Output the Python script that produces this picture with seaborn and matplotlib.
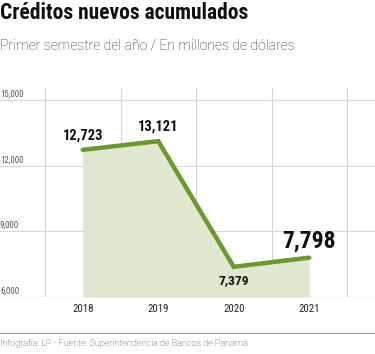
import matplotlib
matplotlib.use("Agg")
import matplotlib.pyplot as plt
import matplotlib.transforms as mtransforms
import seaborn as sns
import pandas as pd

# data
years = ["2018", "2019", "2020", "2021"]
creditos = [12723, 13121, 7379, 7798]
y_ticks = [6000, 9000, 12000, 15000]
y_tick_labels = ["6,000", "9,000", "12,000", "15,000"]

df = pd.DataFrame({"pos": range(len(years)), "year": years, "value": creditos})

NARROW = ["Roboto Condensed", "Archivo Narrow", "IBM Plex Sans Condensed",
          "Liberation Sans Narrow", "Roboto", "DejaVu Sans"]
LIGHT = ["Roboto", "DejaVu Sans"]
GREEN = "#6b9a2c"
FILL = "#e0e7cf"

sns.set_style("white")
plt.rcParams["font.family"] = NARROW

fig = plt.figure(figsize=(3.75, 3.54), dpi=100)
ax = fig.add_axes([0, 57 / 354, 1, 209 / 354])

ax.fill_between(df["pos"], df["value"], 6000, color=FILL, lw=0, zorder=1)
sns.lineplot(data=df, x="pos", y="value", color=GREEN, lw=3.2, ax=ax,
             zorder=3, solid_joinstyle="miter")

# grid: vertical lines between the years, horizontal lines at the ticks
bounds = [p - 0.5 for p in range(len(years) + 1)]
ax.set_xticks(df["pos"])
ax.set_xticklabels(years, fontsize=7.8, color="#222222")
ax.set_xticks(bounds, minor=True)
ax.tick_params(axis="x", which="major", length=0, pad=5)
ax.tick_params(axis="x", which="minor", length=5, width=0.8, color="#bbbbbb")
ax.set_yticks(y_ticks)
ax.set_yticklabels([])
ax.tick_params(axis="y", length=0)
ax.grid(False)
for p in bounds:
    ax.axvline(p, color="#d4d4d4", lw=0.8, zorder=0)
for t in y_ticks[1:]:
    ax.axhline(t, color="#d9d9d9", lw=0.8, zorder=0)
ax.axhline(6000, color="#9a9a9a", lw=0.8, zorder=2)
sns.despine(ax=ax, left=True, bottom=True, top=True, right=True)
ax.set_xlabel("")
ax.set_ylabel("")

ax.set_xlim(-0.5 - 45 / 75.5, -0.5 + 330 / 75.5)
ax.set_ylim(6000, 15000 + 12 / 65.6 * 3000)

trans = mtransforms.blended_transform_factory(ax.transAxes, ax.transData)
for t, lab in zip(y_ticks, y_tick_labels):
    ax.text(0.0, t + 60, lab, transform=trans, ha="left", va="bottom",
            fontsize=6.4, color="#555555", family=NARROW)

# value labels
offsets = [(0, 10.5), (0, 10.5), (0, -10), (0, 12)]
sizes = [10.5, 10.5, 9.5, 17]
for i, v in enumerate(creditos):
    ax.annotate(f"{v:,}", (i, v), xytext=offsets[i], textcoords="offset points",
                ha="center", va="center", fontsize=sizes[i], fontweight="bold",
                color="#111111", family=NARROW)

# titles and footer
fig.text(0.0, 1 - 2 / 354, "Créditos nuevos acumulados", ha="left", va="top",
         fontsize=15.5, fontweight="bold", color="#111111", family=NARROW)
fig.text(0.0, 1 - 39 / 354, "Primer semestre del año / En millones de dólares",
         ha="left", va="top", fontsize=10.1, fontweight="light",
         color="#2a2a2a", family=LIGHT)
fig.add_artist(plt.Line2D([0, 1], [1 - 333 / 354] * 2, color="#999999", lw=0.8))
fig.text(0.0, 1 - 343 / 354, "Infografía: LP - Fuente: Superintendencia de Bancos de Panamá",
         ha="left", va="center", fontsize=6.6, fontweight="light",
         color="#333333", family=LIGHT)

fig.savefig("out.png", dpi=100)
